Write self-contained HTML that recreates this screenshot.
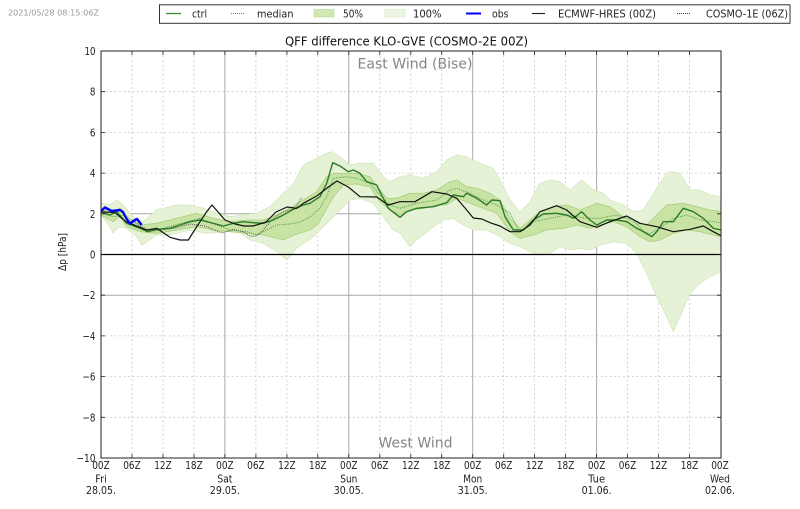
<!DOCTYPE html>
<html><head><meta charset="utf-8"><style>
html,body{margin:0;padding:0;background:#fff;}
svg{display:block;font-family:"DejaVu Sans","Liberation Sans",sans-serif;}
</style></head><body>
<svg width="800" height="509" viewBox="0 0 800 509" xmlns="http://www.w3.org/2000/svg">
<defs><clipPath id="pc"><rect x="101" y="51" width="620" height="407"/></clipPath></defs>
<rect x="0" y="0" width="800" height="509" fill="#fff"/>
<text x="8" y="15.7" font-size="8.3" fill="#999" textLength="91" lengthAdjust="spacingAndGlyphs">2021/05/28 08:15:06Z</text>

<!-- legend -->
<rect x="159.5" y="4.8" width="630.5" height="18.5" fill="#fff" stroke="#333" stroke-width="1"/>
<g font-size="10.5" fill="#222">
<line x1="166" y1="13.5" x2="181" y2="13.5" stroke="#3b8a3b" stroke-width="1.3"/>
<text x="192" y="17.3" textLength="15" lengthAdjust="spacingAndGlyphs">ctrl</text>
<line x1="231" y1="13.5" x2="245" y2="13.5" stroke="#4a9a4a" stroke-width="1" stroke-dasharray="1,1"/>
<text x="257" y="17.3" textLength="36.5" lengthAdjust="spacingAndGlyphs">median</text>
<rect x="314" y="9.5" width="20" height="7.5" fill="#d2e8b2" stroke="#b4d690" stroke-width="0.6"/>
<text x="343" y="17.3" textLength="20" lengthAdjust="spacingAndGlyphs">50%</text>
<rect x="385" y="9.5" width="20" height="7.5" fill="#ecf5e0" stroke="#d6e9c2" stroke-width="0.6"/>
<text x="413" y="17.3" textLength="28.5" lengthAdjust="spacingAndGlyphs">100%</text>
<line x1="466" y1="13.5" x2="481" y2="13.5" stroke="#0000ff" stroke-width="2"/>
<text x="492" y="17.3" textLength="16.5" lengthAdjust="spacingAndGlyphs">obs</text>
<line x1="532" y1="13.5" x2="545" y2="13.5" stroke="#222" stroke-width="1.1"/>
<text x="558" y="17.3" textLength="98" lengthAdjust="spacingAndGlyphs">ECMWF-HRES (00Z)</text>
<line x1="677" y1="13.5" x2="690" y2="13.5" stroke="#333" stroke-width="1" stroke-dasharray="1,1"/>
<text x="706" y="17.3" textLength="82" lengthAdjust="spacingAndGlyphs">COSMO-1E (06Z)</text>
</g>

<text x="406.5" y="45.7" font-size="12.5" fill="#111" text-anchor="middle" textLength="243" lengthAdjust="spacingAndGlyphs">QFF difference KLO-GVE (COSMO-2E 00Z)</text>

<!-- grid -->
<g stroke="#c8c8c8" stroke-width="0.8" stroke-dasharray="2,2.5">
<line x1="132" y1="51" x2="132" y2="458"/><line x1="163" y1="51" x2="163" y2="458"/><line x1="194" y1="51" x2="194" y2="458"/>
<line x1="255.9" y1="51" x2="255.9" y2="458"/><line x1="286.9" y1="51" x2="286.9" y2="458"/><line x1="317.8" y1="51" x2="317.8" y2="458"/>
<line x1="379.8" y1="51" x2="379.8" y2="458"/><line x1="410.8" y1="51" x2="410.8" y2="458"/><line x1="441.7" y1="51" x2="441.7" y2="458"/>
<line x1="503.7" y1="51" x2="503.7" y2="458"/><line x1="534.6" y1="51" x2="534.6" y2="458"/><line x1="565.6" y1="51" x2="565.6" y2="458"/>
<line x1="627.5" y1="51" x2="627.5" y2="458"/><line x1="658.5" y1="51" x2="658.5" y2="458"/><line x1="689.5" y1="51" x2="689.5" y2="458"/>
<line x1="101" y1="91.7" x2="721" y2="91.7"/><line x1="101" y1="132.4" x2="721" y2="132.4"/><line x1="101" y1="173.1" x2="721" y2="173.1"/>
<line x1="101" y1="335.9" x2="721" y2="335.9"/><line x1="101" y1="376.6" x2="721" y2="376.6"/><line x1="101" y1="417.3" x2="721" y2="417.3"/>
</g>
<g stroke="#a8a8a8" stroke-width="1">
<line x1="224.9" y1="51" x2="224.9" y2="458"/><line x1="348.8" y1="51" x2="348.8" y2="458"/><line x1="472.7" y1="51" x2="472.7" y2="458"/><line x1="596.6" y1="51" x2="596.6" y2="458"/>
<line x1="101" y1="213.8" x2="721" y2="213.8"/><line x1="101" y1="295.2" x2="721" y2="295.2"/>
</g>

<g clip-path="url(#pc)">
<!-- 100% band -->
<polygon fill="#e6f2d6" stroke="#d3e7bd" stroke-width="0.8" points="101,203.3 110,205 116.7,200 123.3,205 133.3,216.7 143.3,221.7 156.7,210 176.7,205 190,205 203.3,208.3 216.7,213.3 230,216.7 243.3,215 256.7,213.3 270,206.7 283.3,193.3 293.3,184 303.3,165 316.7,158.3 326.7,153.3 331.7,151.7 340,156.7 350,165 360,163.3 373.3,163.3 383.3,176.7 390,181.7 400,176.7 410,175 423.3,178.3 436.7,171.7 446.7,160 456.7,155 466.7,156.7 480,163.3 493.3,168.3 500,180 510,200 520,212 530,201.7 540,183.3 550,180 560,181.7 570,190 581.7,180 593.3,190 603.3,193.3 610,200 623.3,205 633.3,211.7 643.3,210 656.7,188.3 666.7,173.3 670,171.7 680,173.3 690,190 700,190 710,195 721,196.7 721,271.7 710,276.7 700,283.3 690,293.3 680,316.7 673.3,331.7 666.7,316.7 656.7,296.7 646.7,273.3 636.7,253.3 626.7,243.3 613.3,241.7 600,245 590,250 580,248.3 570,250 560,246.7 550,253.3 540,255 530,251.7 520,246.7 510,243.3 500,236.7 486.7,230 473.3,230 463.3,225 453.3,218.3 443.3,220 433.3,226.7 416.7,240 410,246.7 400,233.3 393.3,230 383.3,216.7 373.3,203.3 360,198.3 350,200 340,210 326.7,223.3 313.3,236.7 296.7,248 286.7,260 276.7,251.7 263.3,243.3 250,240 236.7,230 223.3,231.7 206.7,233.3 190,230 170,235 156.7,235 141.7,245 136.7,236.7 126.7,228.3 118.3,226.7 113.3,233.3 110,226.7 101,215"/>
<!-- 50% band -->
<polygon fill="#c9e3a4" stroke="#a9d07f" stroke-width="0.8" points="101,210 113.3,211.7 120,208.3 126.7,216.7 140,225 156.7,223.3 176.7,218.3 196.7,213.3 213.3,218.3 230,221.7 246.7,220 263.3,220 276.7,215 290,208 303.3,200 316.7,191.7 326.7,176.7 333.3,173.3 346.7,173.3 356.7,173.3 370,176.7 380,190 386.7,198.3 396.7,198.3 410,193.3 423.3,193.3 436.7,190 450,181.7 456.7,180 466.7,186.7 476.7,188.3 490,193.3 500,200 510,218 520,228.3 530,220 540,211.7 553.3,206.7 566.7,205 580,210 596.7,203.3 610,206.7 623.3,216.7 636.7,223.3 646.7,225 656.7,215 666.7,205 683.3,203.3 696.7,206.7 710,210 721,211.7 721,236.7 713.3,235 700,231.7 686.7,230 673.3,233.3 660,240 650,241.7 640,236.7 626.7,226.7 613.3,221.7 600,225 590,228.3 576.7,225 563.3,228.3 546.7,230 533.3,235 520,238.3 510,231.7 496.7,213.3 483.3,208.3 470,203.3 456.7,198.3 446.7,205 436.7,205 423.3,208.3 410,210 400,215 390,210 380,201.7 370,187 356.7,184 343.3,185 333.3,197 318,224 310,230 296.7,234 283.3,240 263.3,235 246.7,233.3 230,231.7 213.3,230 196.7,226.7 176.7,230 156.7,233.3 140,231.7 126.7,226.7 120,216.7 113.3,221.7 101,215"/>

<!-- zero line -->
<line x1="101" y1="254.5" x2="721" y2="254.5" stroke="#000" stroke-width="1.3"/>

<!-- median -->
<polyline fill="none" stroke="#4a9a4a" stroke-width="1" stroke-dasharray="1,1.2" points="101,213.3 113.3,216.7 123.3,215 133.3,225 146.7,231.7 163.3,228.3 183.3,222.7 200,218.3 216.7,225 230,230 246.7,231.7 256.7,235 263.3,231.7 276.7,225 290,224 300,222 310,217 320,208 326.7,196.7 333.3,178.3 346.7,176.7 356.7,178.3 370,183.3 380,195 390,205 400,208.3 416.7,203.3 436.7,200 450,190 456.7,188.3 470,193.3 483.3,200 496.7,205 510,213.3 520,232 533.3,221.7 550,218.3 566.7,215 586.7,218.3 600,218.3 616.7,215 633.3,220 646.7,235 660,228.3 673.3,218.3 686.7,215 700,220 721,222.7"/>

<!-- COSMO-1E -->
<polyline fill="none" stroke="#555" stroke-width="1" stroke-dasharray="1,1" points="132,220 140,226 150,231 160,230 175,228 190,224 205,226 218.3,231.7 223.3,232.7 233.3,229.3 243.3,231.7 250,236 256.7,236 263.3,230 273.3,218.3 283.3,211.7 290,210 295,208.3 300,200 302,198"/>

<!-- ctrl -->
<polyline fill="none" stroke="#2b7a2b" stroke-width="1.4" stroke-linejoin="round" points="101,211.7 110,215 116.7,211.7 126.7,223.3 140,228.3 148.3,231.7 156.7,229.3 170,228.3 180,225 190,221.7 200,220 213.3,223.3 223.3,226 233.3,223.3 243.3,221.7 253.3,222.7 263.3,223.3 273.3,220 283.3,215 293.3,209.3 303.3,205 310,203.3 320,196.7 326.7,183.3 332.7,162.7 340,166 348.3,171.7 353.3,170 360,173.3 366.7,181.7 376.7,185 388.3,208.3 400,217.3 406.7,211.7 416.7,208.3 433.3,206.7 446.7,202.7 453.3,195 463.3,196.7 466.7,193.3 476.7,198.3 486.7,205 491.7,200 500,200.7 505,216.7 513.3,230 523.3,230 533.3,220 543.3,214 556.7,213.3 566.7,215 573.3,218.3 581.7,211.7 590,220 596.7,225 606.7,220 616.7,220 626.7,221.7 636.7,228.3 646.7,233.3 651.7,236.7 656.7,231.7 663.3,221.7 673.3,221.7 683.3,208.3 693.3,211.7 703.3,218.3 713.3,228.3 721,230"/>

<!-- ECMWF -->
<polyline fill="none" stroke="#111" stroke-width="1.2" stroke-linejoin="round" points="101,211.7 115,212.7 126,221.7 140,227.3 146.7,230 156.7,228.3 170,237.3 180,240 188.3,240 196.7,226.7 206.7,211.7 212,205 225,220 235,224 244,226 253,226 266,222 276,212 287,207 296.7,208.3 303.3,203.3 316.7,196 326.7,188.3 337,181 348.3,187 360,196.7 376.7,197 388.3,205 400,201.7 415,201.7 432,191.7 446.7,194 456.7,198.3 465,208 473.3,218 481.7,219 491.7,223.3 500,226 510,231.7 520,231.7 530,225 540,211.7 556.7,205.7 566.7,210 580,221.7 596.7,227.3 610,221.7 626.7,216 640,223.3 656.7,226.7 673.3,231.7 690,229.3 703.3,226 713.3,231.7 721,235.7"/>

<!-- obs -->
<polyline fill="none" stroke="#0000ff" stroke-width="2.4" stroke-linejoin="round" points="101,211 105,207.5 111.7,211 120,210 123,212 126.7,219 130,223.5 135,220 137,219 141.7,225"/>
</g>

<text x="415" y="68.5" font-size="14.5" fill="#858585" text-anchor="middle" textLength="115" lengthAdjust="spacingAndGlyphs">East Wind (Bise)</text>
<text x="415.5" y="447.7" font-size="14" fill="#858585" text-anchor="middle" textLength="74" lengthAdjust="spacingAndGlyphs">West Wind</text>

<!-- frame -->
<rect x="101" y="51" width="620" height="407" fill="none" stroke="#222" stroke-width="1"/>

<!-- ticks -->
<g stroke="#222" stroke-width="0.8">
<path d="M101,91.7h4M101,132.4h4M101,173.1h4M101,213.8h4M101,254.5h4M101,295.2h4M101,335.9h4M101,376.6h4M101,417.3h4"/>
<path d="M721,91.7h-4M721,132.4h-4M721,173.1h-4M721,213.8h-4M721,254.5h-4M721,295.2h-4M721,335.9h-4M721,376.6h-4M721,417.3h-4"/>
<path d="M132,458v-4M163,458v-4M194,458v-4M224.9,458v-4M255.9,458v-4M286.9,458v-4M317.8,458v-4M348.8,458v-4M379.8,458v-4M410.8,458v-4M441.7,458v-4M472.7,458v-4M503.7,458v-4M534.6,458v-4M565.6,458v-4M596.6,458v-4M627.5,458v-4M658.5,458v-4M689.5,458v-4"/>
<path d="M132,51v4M163,51v4M194,51v4M224.9,51v4M255.9,51v4M286.9,51v4M317.8,51v4M348.8,51v4M379.8,51v4M410.8,51v4M441.7,51v4M472.7,51v4M503.7,51v4M534.6,51v4M565.6,51v4M596.6,51v4M627.5,51v4M658.5,51v4M689.5,51v4"/>
</g>

<!-- y tick labels -->
<g font-size="11" fill="#222" text-anchor="end">
<text x="95.5" y="55" textLength="11" lengthAdjust="spacingAndGlyphs">10</text>
<text x="95.5" y="95.7" textLength="5.6" lengthAdjust="spacingAndGlyphs">8</text>
<text x="95.5" y="136.4" textLength="5.6" lengthAdjust="spacingAndGlyphs">6</text>
<text x="95.5" y="177.1" textLength="5.6" lengthAdjust="spacingAndGlyphs">4</text>
<text x="95.5" y="217.8" textLength="5.6" lengthAdjust="spacingAndGlyphs">2</text>
<text x="95.5" y="258.5" textLength="5.6" lengthAdjust="spacingAndGlyphs">0</text>
<text x="95.5" y="299.2" textLength="13" lengthAdjust="spacingAndGlyphs">−2</text>
<text x="95.5" y="339.9" textLength="13" lengthAdjust="spacingAndGlyphs">−4</text>
<text x="95.5" y="380.6" textLength="13" lengthAdjust="spacingAndGlyphs">−6</text>
<text x="95.5" y="421.3" textLength="13" lengthAdjust="spacingAndGlyphs">−8</text>
<text x="95.5" y="462" textLength="19" lengthAdjust="spacingAndGlyphs">−10</text>
</g>
<text transform="translate(66,252) rotate(-90)" font-size="10.5" fill="#222" text-anchor="middle" textLength="38" lengthAdjust="spacingAndGlyphs">Δp [hPa]</text>

<!-- x tick labels -->
<g font-size="11" fill="#222" text-anchor="middle">
<text x="101" y="469" textLength="17.5" lengthAdjust="spacingAndGlyphs">00Z</text><text x="132" y="469" textLength="17.5" lengthAdjust="spacingAndGlyphs">06Z</text><text x="163" y="469" textLength="17.5" lengthAdjust="spacingAndGlyphs">12Z</text><text x="194" y="469" textLength="17.5" lengthAdjust="spacingAndGlyphs">18Z</text>
<text x="224.9" y="469" textLength="17.5" lengthAdjust="spacingAndGlyphs">00Z</text><text x="255.9" y="469" textLength="17.5" lengthAdjust="spacingAndGlyphs">06Z</text><text x="286.9" y="469" textLength="17.5" lengthAdjust="spacingAndGlyphs">12Z</text><text x="317.8" y="469" textLength="17.5" lengthAdjust="spacingAndGlyphs">18Z</text>
<text x="348.8" y="469" textLength="17.5" lengthAdjust="spacingAndGlyphs">00Z</text><text x="379.8" y="469" textLength="17.5" lengthAdjust="spacingAndGlyphs">06Z</text><text x="410.8" y="469" textLength="17.5" lengthAdjust="spacingAndGlyphs">12Z</text><text x="441.7" y="469" textLength="17.5" lengthAdjust="spacingAndGlyphs">18Z</text>
<text x="472.7" y="469" textLength="17.5" lengthAdjust="spacingAndGlyphs">00Z</text><text x="503.7" y="469" textLength="17.5" lengthAdjust="spacingAndGlyphs">06Z</text><text x="534.6" y="469" textLength="17.5" lengthAdjust="spacingAndGlyphs">12Z</text><text x="565.6" y="469" textLength="17.5" lengthAdjust="spacingAndGlyphs">18Z</text>
<text x="596.6" y="469" textLength="17.5" lengthAdjust="spacingAndGlyphs">00Z</text><text x="627.5" y="469" textLength="17.5" lengthAdjust="spacingAndGlyphs">06Z</text><text x="658.5" y="469" textLength="17.5" lengthAdjust="spacingAndGlyphs">12Z</text><text x="689.5" y="469" textLength="17.5" lengthAdjust="spacingAndGlyphs">18Z</text>
<text x="720" y="469" textLength="17.5" lengthAdjust="spacingAndGlyphs">00Z</text>
<text x="101" y="482.5" textLength="11.5" lengthAdjust="spacingAndGlyphs">Fri</text><text x="101" y="494" textLength="30" lengthAdjust="spacingAndGlyphs">28.05.</text>
<text x="224.9" y="482.5" textLength="15" lengthAdjust="spacingAndGlyphs">Sat</text><text x="224.9" y="494" textLength="30" lengthAdjust="spacingAndGlyphs">29.05.</text>
<text x="348.8" y="482.5" textLength="17" lengthAdjust="spacingAndGlyphs">Sun</text><text x="348.8" y="494" textLength="30" lengthAdjust="spacingAndGlyphs">30.05.</text>
<text x="472.7" y="482.5" textLength="19" lengthAdjust="spacingAndGlyphs">Mon</text><text x="472.7" y="494" textLength="30" lengthAdjust="spacingAndGlyphs">31.05.</text>
<text x="596.6" y="482.5" textLength="17" lengthAdjust="spacingAndGlyphs">Tue</text><text x="596.6" y="494" textLength="30" lengthAdjust="spacingAndGlyphs">01.06.</text>
<text x="720" y="482.5" textLength="20" lengthAdjust="spacingAndGlyphs">Wed</text><text x="720" y="494" textLength="30" lengthAdjust="spacingAndGlyphs">02.06.</text>
</g>
</svg>
</body></html>
